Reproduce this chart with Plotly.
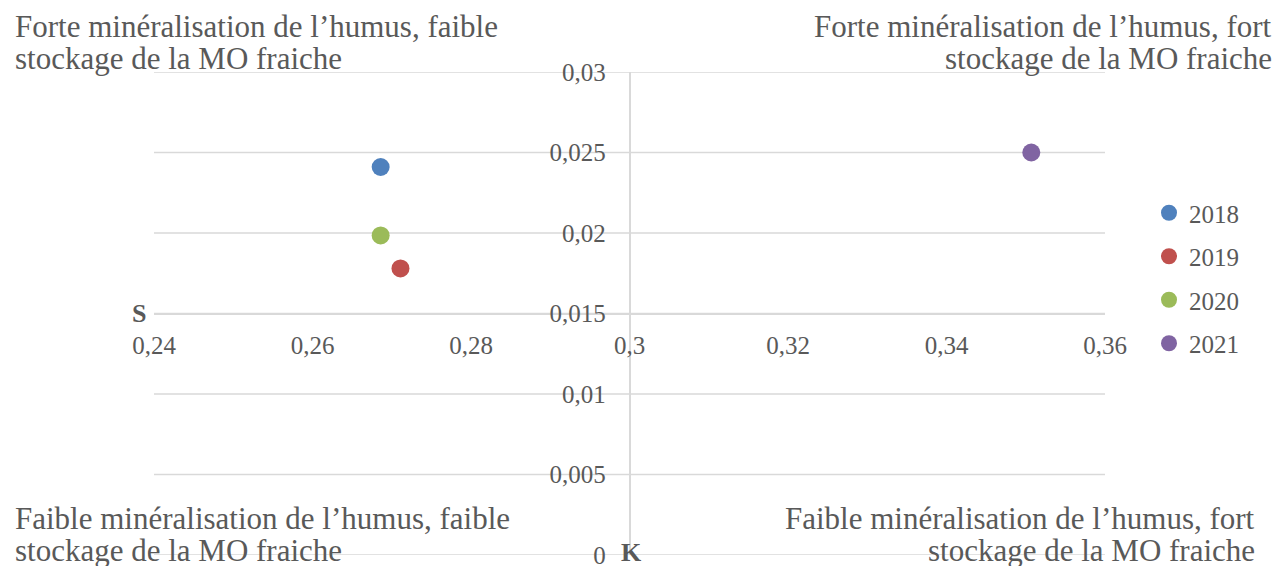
import plotly.graph_objects as go

years = ["2018", "2019", "2020", "2021"]
k_values = [0.2686, 0.2711, 0.2686, 0.3507]
s_values = [0.0241, 0.0178, 0.01985, 0.0250]
colors = ["#4F81BD", "#C0504D", "#9BBB59", "#8064A2"]

x_ticks = [0.24, 0.26, 0.28, 0.30, 0.32, 0.34, 0.36]
x_tick_labels = ["0,24", "0,26", "0,28", "0,3", "0,32", "0,34", "0,36"]
y_ticks = [0, 0.005, 0.01, 0.015, 0.02, 0.025, 0.03]
y_tick_labels = ["0", "0,005", "0,01", "0,015", "0,02", "0,025", "0,03"]

quadrant_tl = ["Forte minéralisation de l’humus, faible", "stockage de la MO fraiche"]
quadrant_tr = ["Forte minéralisation de l’humus, fort", "stockage de la MO fraiche"]
quadrant_bl = ["Faible minéralisation de l’humus, faible", "stockage de la MO fraiche"]
quadrant_br = ["Faible minéralisation de l’humus, fort", "stockage de la MO fraiche"]

FONT = "Liberation Serif"
TXT = "#595959"
GRID = "#D9D9D9"

fig = go.Figure()
for i, yr in enumerate(years):
    fig.add_trace(go.Scatter(
        x=[k_values[i]], y=[s_values[i]], mode="markers", name=yr,
        legendgroup=yr,
        marker=dict(size=18, color=colors[i]),
    ))

W, H = 1279, 566
L, R, T, B = 154, 174, 72, 11
pw, ph = W - L - R, H - T - B


def px_x(px):
    return (px - L) / pw


def px_y(py):
    return (H - B - py) / ph


fig.update_layout(
    width=W, height=H,
    margin=dict(l=L, r=R, t=T, b=B, autoexpand=False),
    paper_bgcolor="white", plot_bgcolor="white",
    font=dict(family=FONT, size=25, color=TXT),
    separators=",.",
    showlegend=True,
    legend=dict(x=px_x(1149), y=px_y(190),
                xanchor="left", yanchor="top",
                font=dict(family=FONT, size=25, color=TXT),
                tracegroupgap=8, bgcolor="rgba(0,0,0,0)"),
    xaxis=dict(range=[0.24, 0.36], tickvals=x_ticks, ticktext=x_tick_labels,
               anchor="free", position=0.5, showgrid=False, zeroline=False,
               showline=True, linecolor=GRID, linewidth=1.5,
               ticks="", ticklabelstandoff=10, ticklabeloverflow="allow",
               automargin=False,
               tickfont=dict(family=FONT, size=25, color=TXT)),
    yaxis=dict(range=[0, 0.03], tickvals=y_ticks, ticktext=y_tick_labels,
               anchor="free", position=0.5, showgrid=False, zeroline=False,
               showline=True, linecolor=GRID, linewidth=1.5,
               ticks="", ticklabelstandoff=18, ticklabeloverflow="allow",
               automargin=False,
               tickfont=dict(family=FONT, size=25, color=TXT)),
)

# horizontal gridlines at each y tick (including range ends)
for yv in y_ticks:
    fig.add_shape(type="line", xref="paper", yref="y", x0=0, x1=1, y0=yv, y1=yv,
                  line=dict(color=GRID, width=1.5), layer="below")

QF = dict(family=FONT, size=31, color=TXT)
for lines, xpx, xa, ys in [
    (quadrant_tl, 13, "left", [27, 58]),
    (quadrant_tr, 1274, "right", [27, 58]),
    (quadrant_bl, 13, "left", [518, 550]),
    (quadrant_br, 1257, "right", [518, 550]),
]:
    for line, ypx in zip(lines, ys):
        fig.add_annotation(text=line, xref="paper", yref="paper", showarrow=False,
                           x=px_x(xpx), y=px_y(ypx), xanchor=xa, yanchor="middle",
                           font=QF)

fig.add_annotation(text="<b>S</b>", xref="paper", yref="y", x=0, y=0.015,
                   xanchor="right", yanchor="middle", xshift=-6, showarrow=False,
                   font=dict(family=FONT, size=26, color=TXT))
fig.add_annotation(text="<b>K</b>", xref="x", yref="y", x=0.30, y=0,
                   xanchor="center", yanchor="middle", yshift=3, xshift=2,
                   showarrow=False, font=dict(family=FONT, size=26, color=TXT))

fig.write_html("out.html", config={"displayModeBar": False},
               post_script="document.body.style.margin='0';")
